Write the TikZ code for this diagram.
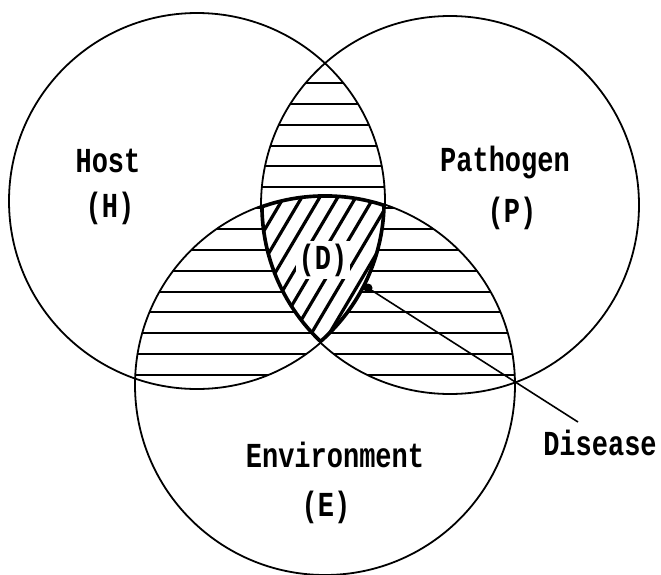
\documentclass[tikz,border=0pt]{standalone}
\usepackage{fontspec}
\setmainfont{Liberation Mono}
\newcommand{\tall}[1]{\scalebox{1}[1.3]{#1}}
\begin{document}
\begin{tikzpicture}[x=1pt,y=-1pt,line join=round,
  circ/.style={line width=1.8pt},
  hatch/.style={line width=2pt},
  dhatch/.style={line width=3.2pt},
  lbl/.style={font=\fontsize{27}{30}\selectfont\bfseries,inner sep=0pt}]
\useasboundingbox (0,0) rectangle (661,574);
\coordinate (H) at (197,201);
\coordinate (P) at (450,205);
\coordinate (E) at (325,385);
% pairwise horizontal hatching
\begin{scope}
  \clip (H) circle[radius=188pt];
  \clip (P) circle[radius=189pt];
  \foreach \k in {0,...,14} \draw[hatch] (0,{83+20.86*\k}) -- (661,{83+20.86*\k});
\end{scope}
\begin{scope}
  \clip (H) circle[radius=188pt];
  \clip (E) circle[radius=190pt];
  \foreach \k in {0,...,14} \draw[hatch] (0,{83+20.86*\k}) -- (661,{83+20.86*\k});
\end{scope}
\begin{scope}
  \clip (P) circle[radius=189pt];
  \clip (E) circle[radius=190pt];
  \foreach \k in {0,...,14} \draw[hatch] (0,{83+20.86*\k}) -- (661,{83+20.86*\k});
\end{scope}
% triple region: diagonal hatching and thick border
\begin{scope}
  \clip (H) circle[radius=188pt];
  \clip (P) circle[radius=189pt];
  \clip (E) circle[radius=190pt];
  \fill[white] (0,0) rectangle (661,574);
  \foreach \k in {-8,...,14} \draw[dhatch] ({200+18*\k},400) -- ({330+18*\k},180);
  \draw[line width=5.5pt] (H) circle[radius=188pt] (P) circle[radius=189pt] (E) circle[radius=190pt];
\end{scope}
\node[lbl,fill=white,inner sep=3pt] (D) at (323,260) {\tall{(D)}};
% circles
\draw[circ] (H) circle[radius=188pt];
\draw[circ] (P) circle[radius=189pt];
\draw[circ] (E) circle[radius=190pt];
% disease pointer
\coordinate (dot) at (368,288);
\coordinate (lend) at (578,422);
\fill (dot) circle[radius=4.5pt];
\draw[line width=1.6pt] (dot) -- (lend);
% labels
\node[lbl] (host) at (108,161) {\tall{Host}};
\node[lbl] (hh) at (110,208) {\tall{(H)}};
\node[lbl] (path) at (505,162) {\tall{Pathogen}};
\node[lbl] (pp) at (512,213) {\tall{(P)}};
\node[lbl] (env) at (335,455) {\tall{Environment}};
\node[lbl] (ee) at (326,507) {\tall{(E)}};
\node[lbl] (dis) at (600,443) {\tall{Disease}};
\end{tikzpicture}
\end{document}
